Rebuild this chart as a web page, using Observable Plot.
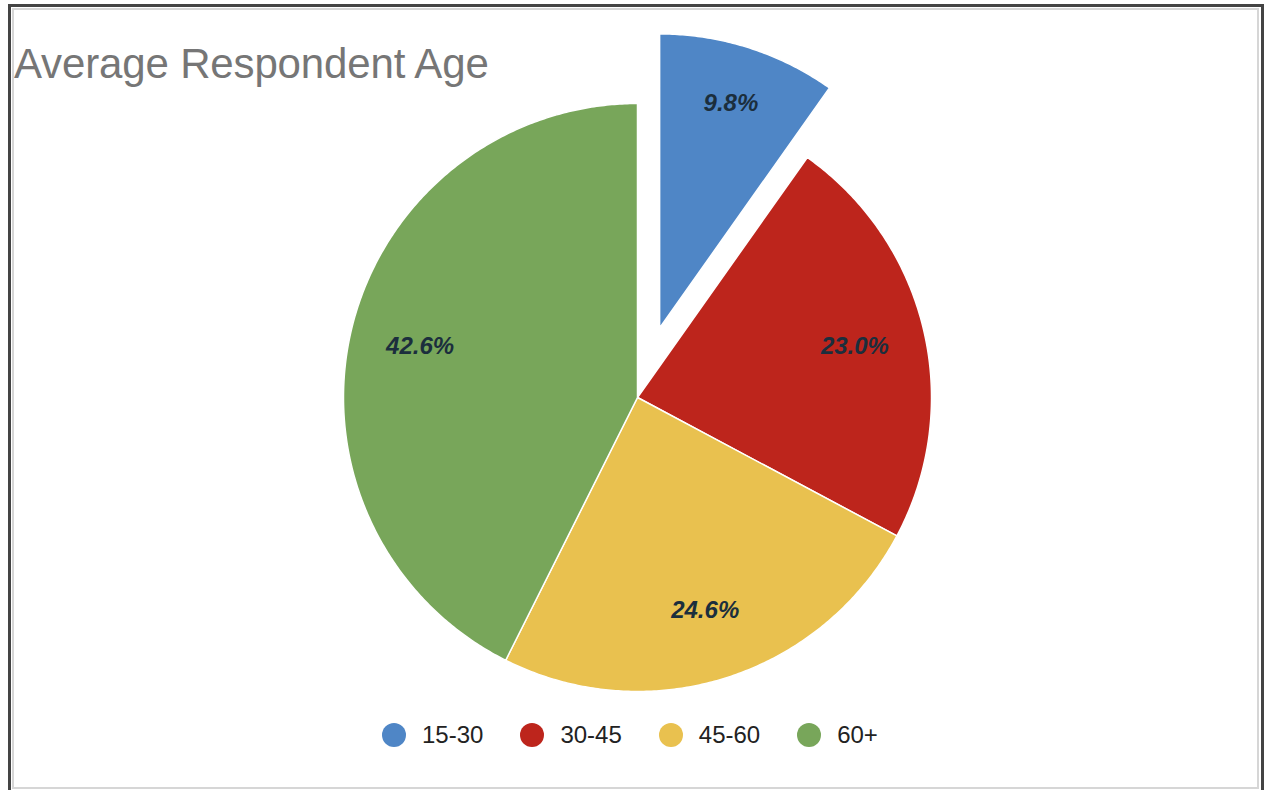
<!DOCTYPE html>
<html>
<head>
<meta charset="utf-8">
<script src="https://cdn.jsdelivr.net/npm/d3@7"></script>
<script src="https://cdn.jsdelivr.net/npm/@observablehq/plot@0.6"></script>
<style>
  body { margin: 0; background: #fff; font-family: "Liberation Sans", Arial, sans-serif; }
  #wrap { position: relative; width: 1264px; height: 790px; overflow: hidden; background: #fff; }
  #chart { position: absolute; left: 0; top: 0; }
  #outer { position: absolute; left: 8px; top: 4px; width: 1256px; height: 800px; border: 3px solid #444; border-bottom: none; box-sizing: border-box; pointer-events: none; }
  #inner { position: absolute; left: 12px; top: 8px; width: 1247px; height: 781px; border: 2px solid #d6d6d6; box-sizing: border-box; pointer-events: none; }
  #title { position: absolute; left: 14px; top: 43px; font-size: 42px; line-height: 1; letter-spacing: -0.15px; color: #767676; white-space: nowrap; }
  #legend { position: absolute; left: 382px; top: 722px; display: flex; align-items: center; gap: 37px; font-size: 24px; line-height: 26px; color: #222; }
  .item { display: flex; align-items: center; gap: 16px; }
  .sw { width: 24px; height: 24px; border-radius: 50%; }
</style>
</head>
<body>
<div id="wrap">
  <div id="chart"></div>
  <div id="title"></div>
  <div id="legend"></div>
  <div id="outer"></div>
  <div id="inner"></div>
</div>
<script>
// ---- data ----
const chartTitle = "Average Respondent Age";
const categories = ["15-30", "30-45", "45-60", "60+"];
const shares = [9.8, 23.0, 24.6, 42.6];
const colors = ["#4f86c6", "#bd251c", "#e9c14f", "#78a65a"];
const explodedCategory = "15-30";

// ---- layout constants ----
const W = 1264, H = 790;
const R = 294;            // pie radius in px
const cx = 637, cy = 397; // pie centre in px
const explodeDist = 73 / R;
const labelRadius = 0.76;
const explodedLabelRadius = 0.80;

const arcs = d3.pie().sort(null).value(d => d)(shares);
const slices = [];
const labels = [];
arcs.forEach((a, i) => {
  const cat = categories[i];
  const mid = (a.startAngle + a.endAngle) / 2;
  const exploded = cat === explodedCategory;
  const off = exploded ? explodeDist : 0;
  const ox = Math.sin(mid) * off, oy = Math.cos(mid) * off;
  const n = Math.max(2, Math.ceil((a.endAngle - a.startAngle) / (Math.PI / 360)));
  slices.push({cat, x: ox, y: oy});
  for (let k = 0; k <= n; k++) {
    const t = a.startAngle + (a.endAngle - a.startAngle) * k / n;
    slices.push({cat, x: ox + Math.sin(t), y: oy + Math.cos(t)});
  }
  slices.push({cat, x: ox, y: oy});
  const lr = exploded ? explodedLabelRadius : labelRadius;
  labels.push({cat, x: ox + Math.sin(mid) * lr, y: oy + Math.cos(mid) * lr, text: shares[i].toFixed(1) + "%"});
});

const chart = Plot.plot({
  width: W,
  height: H,
  margin: 0,
  style: {background: "transparent", fontFamily: "Liberation Sans, Arial, sans-serif"},
  x: {domain: [-cx / R, (W - cx) / R], axis: null},
  y: {domain: [-(H - cy) / R, cy / R], axis: null},
  color: {domain: categories, range: colors},
  marks: [
    Plot.line(slices, {x: "x", y: "y", z: "cat", fill: "cat", stroke: "white", strokeWidth: 1.5, curve: "linear"}),
    Plot.text(labels, {x: "x", y: "y", text: "text", fill: "#1b2e3d", fontSize: 24, fontWeight: "bold", fontStyle: "italic", fontFamily: "Liberation Sans, Arial, sans-serif"})
  ]
});
document.getElementById("chart").appendChild(chart);

document.getElementById("title").textContent = chartTitle;
const legend = document.getElementById("legend");
categories.forEach((c, i) => {
  const item = document.createElement("div");
  item.className = "item";
  const sw = document.createElement("span");
  sw.className = "sw";
  sw.style.background = colors[i];
  const lab = document.createElement("span");
  lab.textContent = c;
  item.appendChild(sw);
  item.appendChild(lab);
  legend.appendChild(item);
});
</script>
</body>
</html>
